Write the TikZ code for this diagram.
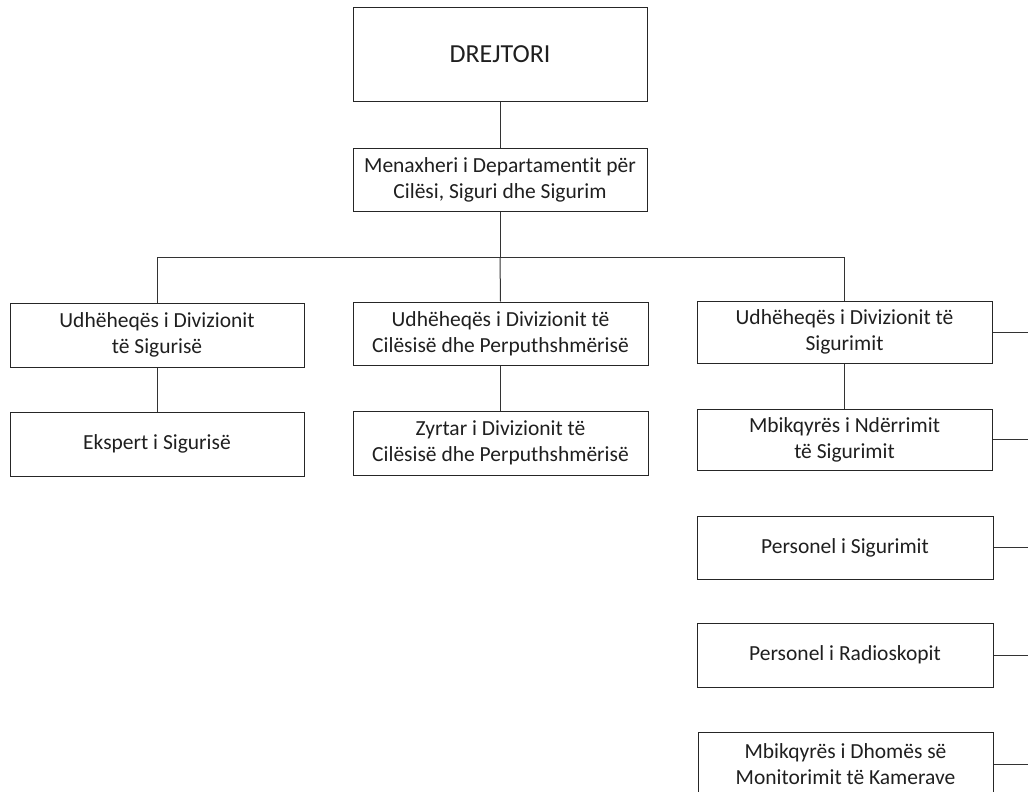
\documentclass[tikz,border=0pt]{standalone}
\usepackage{fontspec}
\setmainfont{Carlito}[Ligatures={NoCommon}]
\begin{document}
\begin{tikzpicture}[x=1pt,y=-1pt,
  box/.style={draw=black!85, line width=1pt, align=center, inner sep=0pt,
    font=\fontsize{21.5}{26}\selectfont, text=black!88},
  conn/.style={draw=black!80, line width=1pt}]
\useasboundingbox (0,0) rectangle (1028,792);
\clip (0,0) rectangle (1028,792);
\coordinate (edge) at (1028,0);
\node[box, minimum width=294pt, minimum height=93pt, font=\fontsize{26}{30}\selectfont] (drej) at (500,54.5) {DREJTORI};
\node[box, minimum width=294pt, minimum height=63pt] (men) at (500,179.5) {Menaxheri i Departamentit për\\Cilësi, Siguri dhe Sigurim};
\node[box, minimum width=294pt, minimum height=64pt] (u1) at (157,335) {Udhëheqës i Divizionit\\të Sigurisë};
\node[box, minimum width=295pt, minimum height=63pt] (u2) at (500.5,333.5) {Udhëheqës i Divizionit të\\Cilësisë dhe Perputhshmërisë};
\node[box, minimum width=295pt, minimum height=62pt] (u3) at (844.5,332) {Udhëheqës i Divizionit të\\Sigurimit};
\node[box, minimum width=294pt, minimum height=64pt] (e1) at (157,444) {Ekspert i Sigurisë};
\node[box, minimum width=295pt, minimum height=64pt] (z2) at (500.5,443) {Zyrtar i Divizionit të\\Cilësisë dhe Perputhshmërisë};
\node[box, minimum width=295pt, minimum height=61pt] (m3) at (844.5,439.5) {Mbikqyrës i Ndërrimit\\të Sigurimit};
\node[box, minimum width=296pt, minimum height=63pt] (p4) at (845,547.5) {Personel i Sigurimit};
\node[box, minimum width=296pt, minimum height=64pt] (r5) at (845,655) {Personel i Radioskopit};
\node[box, minimum width=295pt, minimum height=64pt] (d6) at (845.5,764) {Mbikqyrës i Dhomës së\\Monitorimit të Kamerave};
\coordinate (bus) at (500,257);
\coordinate (b1) at (157,257);
\coordinate (b3) at (844.5,257);
\draw[conn] (drej.south) -- (men.north);
\draw[conn] (men.south) -- (bus);
\draw[conn] (u1.north) -- (b1) -- (b3) -- (u3.north);
\draw[conn] (bus) -- (u2.north);
\draw[conn] (u1.south) -- (e1.north);
\draw[conn] (u2.south) -- (z2.north);
\draw[conn] (u3.south) -- (m3.north);
\draw[conn] (u3.east) -- (u3.east -| edge);
\draw[conn] (m3.east) -- (m3.east -| edge);
\draw[conn] (p4.east) -- (p4.east -| edge);
\draw[conn] (r5.east) -- (r5.east -| edge);
\draw[conn] (d6.east) -- (d6.east -| edge);
\end{tikzpicture}
\end{document}
